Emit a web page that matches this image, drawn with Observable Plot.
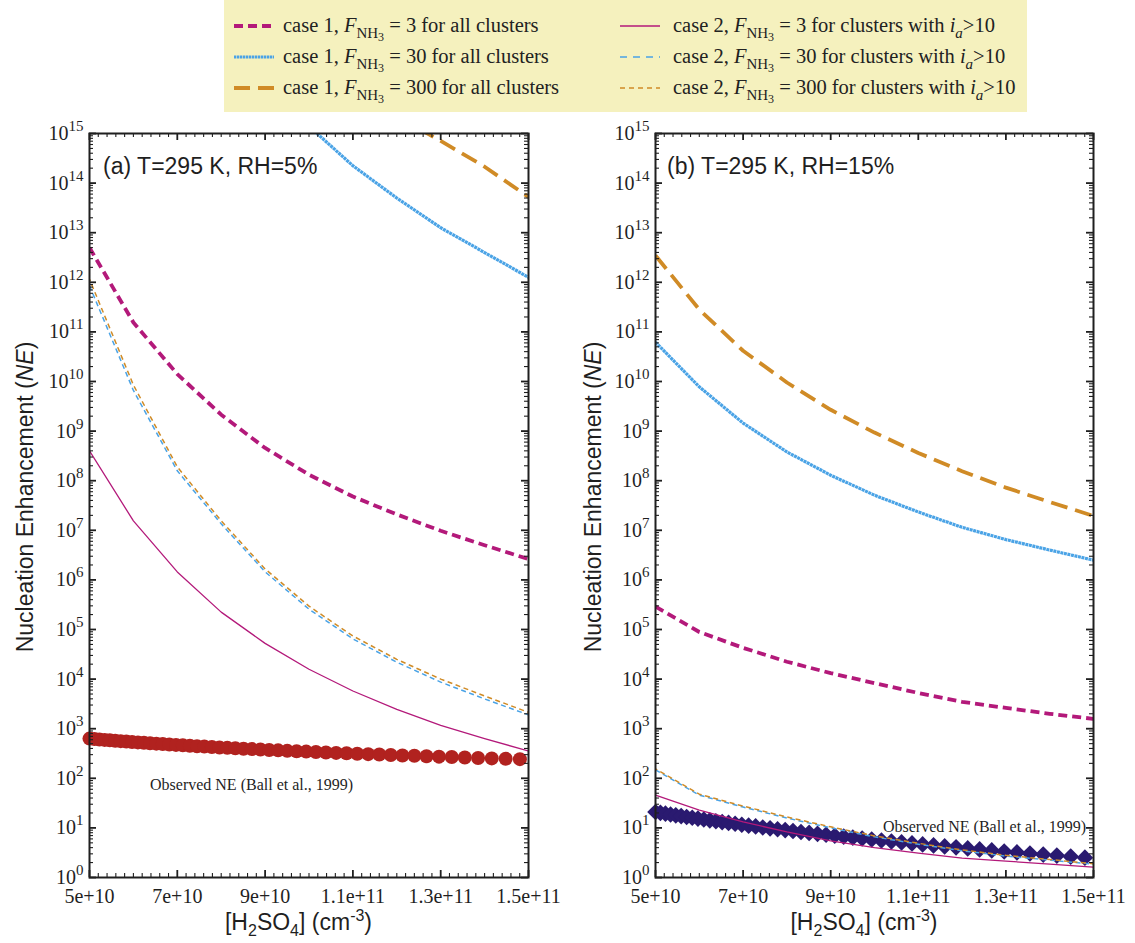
<!DOCTYPE html>
<html>
<head>
<meta charset="utf-8">
<script src="https://cdn.jsdelivr.net/npm/d3@7"></script>
<script src="https://cdn.jsdelivr.net/npm/@observablehq/plot@0.6"></script>
<style>
  body { margin: 0; background: #fff; }
  #wrap { position: relative; width: 1135px; height: 943px; overflow: hidden; background: #fff; }
  .panel { position: absolute; top: 0; }
  #legend { position: absolute; left: 224px; top: 0; width: 803px; height: 112px; background: #f5f1be;
            font-family: "Liberation Serif", "Times New Roman", Times, serif; font-size: 20.5px; color: #222; }
  .item { position: absolute; white-space: nowrap; line-height: 20px; }
  .swatch { position: absolute; }
  .s1 { font-size: 15px; position: relative; top: 6px; }
  .s2 { font-size: 12px; position: relative; top: 3px; }
</style>
</head>
<body>
<div id="wrap">
  <div id="pa" class="panel" style="left:0px"></div>
  <div id="pb" class="panel" style="left:570px"></div>
  <div id="legend"></div>
</div>
<script>
// ---------------- data ----------------
const xModel = [5e10, 6e10, 7e10, 8e10, 9e10, 1e11, 1.1e11, 1.2e11, 1.3e11, 1.4e11, 1.5e11];

// panel (a) T=295 K, RH=5%
const a_case1_F3   = [5.0e12, 1.55e11, 1.41e10, 2.14e9, 4.57e8, 1.32e8, 4.79e7, 2.09e7, 9.77e6, 5.0e6, 2.63e6];
const a_case1_F30  = [null, null, null, null, null, 1.4e15, 2.24e14, 5.0e13, 1.26e13, 3.98e12, 1.26e12];
const a_case1_F300 = [null, null, null, null, null, null, null, 2.24e15, 7.08e14, 2.14e14, 5.25e13];
const a_case2_F3   = [3.98e8, 1.55e7, 1.45e6, 2.24e5, 5.25e4, 1.58e4, 5.75e3, 2.45e3, 1.17e3, 631, 355];
const a_case2_F30  = [8.5e11, 6.6e9, 1.58e8, 1.35e7, 1.45e6, 2.57e5, 6.46e4, 2.19e4, 8.7e3, 3.98e3, 1.9e3];
const a_case2_F300 = [1.15e12, 8.5e9, 1.9e8, 1.55e7, 1.66e6, 2.95e5, 7.41e4, 2.5e4, 1.0e4, 4.57e3, 2.14e3];

// panel (b) T=295 K, RH=15%
const b_case1_F3   = [2.9e5, 8.9e4, 4.27e4, 2.24e4, 1.32e4, 8.3e3, 5.25e3, 3.47e3, 2.63e3, 2.0e3, 1.58e3];
const b_case1_F30  = [6.2e10, 7.8e9, 1.45e9, 3.8e8, 1.29e8, 5.1e7, 2.34e7, 1.15e7, 6.5e6, 4.0e6, 2.5e6];
const b_case1_F300 = [3.47e12, 2.82e11, 4.17e10, 9.55e9, 2.69e9, 9.33e8, 3.63e8, 1.55e8, 7.24e7, 3.72e7, 1.95e7];
const b_case2_F3   = [45.7, 22.9, 13.2, 8.3, 5.5, 4.0, 3.1, 2.45, 2.14, 1.86, 1.62];
const b_case2_F30  = [148, 45.7, 26.3, 15.8, 10.0, 6.6, 4.7, 3.47, 2.7, 2.24, 1.86];
const b_case2_F300 = [155, 47.9, 27.5, 16.6, 10.5, 6.9, 4.9, 3.6, 2.8, 2.3, 1.9];

// observed NE (Ball et al., 1999)
const obsX = [5.000e10, 5.112e10, 5.227e10, 5.344e10, 5.463e10, 5.586e10, 5.711e10, 5.839e10, 5.969e10, 6.103e10,
              6.240e10, 6.379e10, 6.522e10, 6.668e10, 6.818e10, 6.970e10, 7.126e10, 7.286e10, 7.449e10, 7.616e10,
              7.787e10, 7.961e10, 8.139e10, 8.322e10, 8.508e10, 8.699e10, 8.894e10, 9.093e10, 9.297e10, 9.505e10,
              9.718e10, 9.936e10, 1.0158e11, 1.0386e11, 1.0618e11, 1.0856e11, 1.1099e11, 1.1348e11, 1.1602e11, 1.1862e11,
              1.2128e11, 1.2400e11, 1.2677e11, 1.2961e11, 1.3252e11, 1.3549e11, 1.3852e11, 1.4163e11, 1.4480e11, 1.4804e11];
const obsA = [631, 619, 607, 595, 584, 572, 561, 550, 540, 529,
              519, 509, 499, 490, 480, 471, 462, 453, 444, 436,
              427, 419, 411, 403, 395, 388, 380, 373, 366, 358,
              352, 345, 338, 332, 325, 319, 313, 307, 301, 295,
              289, 284, 278, 273, 268, 262, 257, 252, 247, 243];
const obsB = [20.9, 20.1, 19.4, 18.6, 17.9, 17.3, 16.6, 16.0, 15.4, 14.8,
              14.2, 13.6, 13.1, 12.6, 12.1, 11.6, 11.1, 10.7, 10.2, 9.81,
              9.40, 9.02, 8.64, 8.28, 7.93, 7.59, 7.27, 6.96, 6.66, 6.38,
              6.10, 5.83, 5.57, 5.33, 5.09, 4.87, 4.65, 4.44, 4.24, 4.05,
              3.86, 3.69, 3.52, 3.35, 3.20, 3.05, 2.90, 2.77, 2.64, 2.51];

// ticks
const xTicks = [5e10, 7e10, 9e10, 1.1e11, 1.3e11, 1.5e11];
const xTickLabels = ["5e+10", "7e+10", "9e+10", "1.1e+11", "1.3e+11", "1.5e+11"];
const yExponents = [0, 1, 2, 3, 4, 5, 6, 7, 8, 9, 10, 11, 12, 13, 14, 15];

// ---------------- styles ----------------
const C_MAG = "#b3197a", C_BLUE = "#4aa3e6", C_ORG = "#d08b26", C_RED = "#b1221f", C_NAVY = "#2a1a70";
const SERIF = '"Liberation Serif","Times New Roman",Times,serif';
const SANS = '"Liberation Sans",Arial,Helvetica,sans-serif';
const INK = "#1f1f1f";

const seriesStyle = [
  {key: "c1F3",   color: C_MAG,  width: 3.8, dash: "9,5",     offset: 0,    legendDash: "9,5"},
  {key: "c1F30",  color: C_BLUE, width: 3.2, dash: "3,0.6",   offset: 0,    legendDash: "2.4,0.6"},
  {key: "c1F300", color: C_ORG,  width: 3.8, dash: "17,8",    offset: 0,    legendDash: "16,8"},
  {key: "c2F3",   color: C_MAG,  width: 1.3, dash: null,      offset: 0,    legendDash: null},
  {key: "c2F30",  color: C_BLUE, width: 1.5, dash: "5,3.5",   offset: 0,    legendDash: "7,6"},
  {key: "c2F300", color: C_ORG,  width: 1.5, dash: "5,3.5",   offset: 3,    legendDash: "5,4"}
];

const yMajor = yExponents.map(e => Math.pow(10, e));
const yMinor = [];
for (const e of yExponents.slice(0, -1)) for (const m of [2,3,4,5,6,7,8,9]) yMinor.push(m * Math.pow(10, e));
const xMinor = d3.range(5e10, 1.5e11 + 1, 2e9).filter(v => !xTicks.some(t => Math.abs(t - v) < 1e8));

function makePanel(cfg) {
  const W = cfg.width, H = 943, mt = 133, mb = 66, ml = cfg.ml, mr = cfg.mr;
  const fw = W - ml - mr, fh = H - mt - mb;
  const rows = ys => xModel.map((x, i) => ({x, y: ys[i]})).filter(d => d.y != null);
  const obsRows = cfg.obs.map((y, i) => ({x: obsX[i], y}));
  const marks = [];
  marks.push(Plot.dot(obsRows, {x: "x", y: "y", r: cfg.obsR, symbol: cfg.obsSymbol, fill: cfg.obsColor, stroke: "none"}));
  cfg.series.forEach((vals, i) => {
    const s = seriesStyle[i];
    marks.push(Plot.line(rows(vals), {x: "x", y: "y", stroke: s.color, strokeWidth: s.width,
      strokeDasharray: s.dash, strokeDashoffset: s.offset, strokeLinecap: "butt", clip: true}));
  });
  // inward ticks on all four sides
  marks.push(Plot.tickY(yMajor, {y: d => d, insetRight: fw - 7, stroke: INK, strokeWidth: 1.8}));
  marks.push(Plot.tickY(yMajor, {y: d => d, insetLeft: fw - 7, stroke: INK, strokeWidth: 1.8}));
  marks.push(Plot.tickY(yMinor, {y: d => d, insetRight: fw - 4, stroke: INK, strokeWidth: 1.1}));
  marks.push(Plot.tickY(yMinor, {y: d => d, insetLeft: fw - 4, stroke: INK, strokeWidth: 1.1}));
  marks.push(Plot.tickX(xTicks, {x: d => d, insetTop: fh - 7, stroke: INK, strokeWidth: 1.8}));
  marks.push(Plot.tickX(xTicks, {x: d => d, insetBottom: fh - 7, stroke: INK, strokeWidth: 1.8}));
  marks.push(Plot.tickX(xMinor, {x: d => d, insetTop: fh - 4, stroke: INK, strokeWidth: 1.1}));
  marks.push(Plot.tickX(xMinor, {x: d => d, insetBottom: fh - 4, stroke: INK, strokeWidth: 1.1}));
  marks.push(Plot.frame({stroke: INK, strokeWidth: 2}));
  marks.push(Plot.axisY({ticks: yMajor, tickSize: 0, tickPadding: 6,
    tickFormat: d => "10|" + Math.round(Math.log10(d)), fontSize: 20, fontFamily: SERIF, fill: INK}));
  marks.push(Plot.axisX({ticks: xTicks, tickSize: 0, tickPadding: 11,
    tickFormat: d => xTickLabels[xTicks.indexOf(d)], fontSize: 20, fontFamily: SERIF, fill: INK}));

  const svg = Plot.plot({
    width: W, height: H, marginTop: mt, marginBottom: mb, marginLeft: ml, marginRight: mr,
    x: {domain: [5e10, 1.5e11], label: null},
    y: {type: "log", domain: [1, 1e15], label: null},
    style: {background: "transparent", fontFamily: SERIF, fontSize: "20px", overflow: "visible", color: INK},
    marks
  });

  // superscript exponents on the y tick labels
  svg.querySelectorAll('[aria-label="y-axis tick label"] text').forEach(t => {
    const parts = t.textContent.split("|");
    if (parts.length !== 2) return;
    t.textContent = parts[0];
    const ts = document.createElementNS("http://www.w3.org/2000/svg", "tspan");
    ts.setAttribute("dy", "-9");
    ts.setAttribute("font-size", "15");
    ts.textContent = parts[1];
    t.appendChild(ts);
  });

  const s = d3.select(svg);
  // y axis title
  const yt = s.append("text").attr("transform", `translate(${cfg.yTitleX},${(mt + H - mb) / 2 - 8}) rotate(-90)`)
    .attr("text-anchor", "middle").attr("font-family", SANS).attr("font-size", 23).attr("fill", INK);
  yt.append("tspan").text("Nucleation Enhancement (");
  yt.append("tspan").attr("font-style", "italic").text("NE");
  yt.append("tspan").text(")");
  // x axis title
  const xt = s.append("text").attr("x", ml + fw / 2 - 10).attr("y", 930)
    .attr("text-anchor", "middle").attr("font-family", SANS).attr("font-size", 23).attr("fill", INK);
  xt.append("tspan").text("[H");
  xt.append("tspan").attr("font-size", 16).attr("dy", 6).text("2");
  xt.append("tspan").attr("dy", -6).text("SO");
  xt.append("tspan").attr("font-size", 16).attr("dy", 6).text("4");
  xt.append("tspan").attr("dy", -6).text("] (cm");
  xt.append("tspan").attr("font-size", 16).attr("dy", -9).text("-3");
  xt.append("tspan").attr("dy", 9).text(")");
  // panel label
  s.append("text").attr("x", cfg.labelX).attr("y", 174).attr("text-anchor", "start")
    .attr("font-family", SANS).attr("font-size", 23).attr("fill", INK).text(cfg.label);
  // observed annotation
  s.append("text").attr("x", cfg.obsTextX).attr("y", cfg.obsTextY).attr("text-anchor", cfg.obsTextAnchor)
    .attr("font-family", SERIF).attr("font-size", 16).attr("fill", INK).text("Observed NE (Ball et al., 1999)");
  return svg;
}

document.getElementById("pa").appendChild(makePanel({
  width: 570, ml: 89, mr: 42,
  series: [a_case1_F3, a_case1_F30, a_case1_F300, a_case2_F3, a_case2_F30, a_case2_F300],
  obs: obsA, obsR: 7, obsSymbol: "circle", obsColor: C_RED,
  yTitleX: 33, label: "(a) T=295 K, RH=5%", labelX: 103,
  obsTextX: 150, obsTextY: 790, obsTextAnchor: "start"
}));
document.getElementById("pb").appendChild(makePanel({
  width: 565, ml: 85, mr: 42,
  series: [b_case1_F3, b_case1_F30, b_case1_F300, b_case2_F3, b_case2_F30, b_case2_F300],
  obs: obsB, obsR: 7.5, obsSymbol: "diamond2", obsColor: C_NAVY,
  yTitleX: 31, label: "(b) T=295 K, RH=15%", labelX: 97,
  obsTextX: 516, obsTextY: 832, obsTextAnchor: "end"
}));

// ---------------- legend ----------------
const legendLabels = [
  ["case 1, ", "3", " for all clusters"],
  ["case 1, ", "30", " for all clusters"],
  ["case 1, ", "300", " for all clusters"],
  ["case 2, ", "3", " for clusters with "],
  ["case 2, ", "30", " for clusters with "],
  ["case 2, ", "300", " for clusters with "]
];
const legend = document.getElementById("legend");
const rowY = [26, 57, 88];
seriesStyle.forEach((st, i) => {
  const col = i < 3 ? 0 : 1, row = i % 3;
  const lineX = col === 0 ? 10 : 396, textX = col === 0 ? 59 : 449;
  const sw = document.createElementNS("http://www.w3.org/2000/svg", "svg");
  sw.setAttribute("width", 42); sw.setAttribute("height", 10);
  sw.setAttribute("class", "swatch");
  sw.style.left = lineX + "px"; sw.style.top = (rowY[row] - 5) + "px";
  const ln = d3.select(sw).append("line").attr("x1", 0).attr("x2", 40).attr("y1", 5).attr("y2", 5)
    .attr("stroke", st.color).attr("stroke-width", st.width);
  if (st.legendDash) ln.attr("stroke-dasharray", st.legendDash);
  legend.appendChild(sw);
  const div = document.createElement("div");
  div.className = "item";
  div.style.left = textX + "px";
  div.style.top = (rowY[row] - 11) + "px";
  const [pre, val, post] = legendLabels[i];
  let html = `${pre}<i>F</i><span class="s1">NH<span class="s2">3</span></span> = ${val}${post}`;
  if (col === 1) html += `<i>i</i><span class="s1"><i>a</i></span>&gt;10`;
  div.innerHTML = html;
  legend.appendChild(div);
});
</script>
</body>
</html>
